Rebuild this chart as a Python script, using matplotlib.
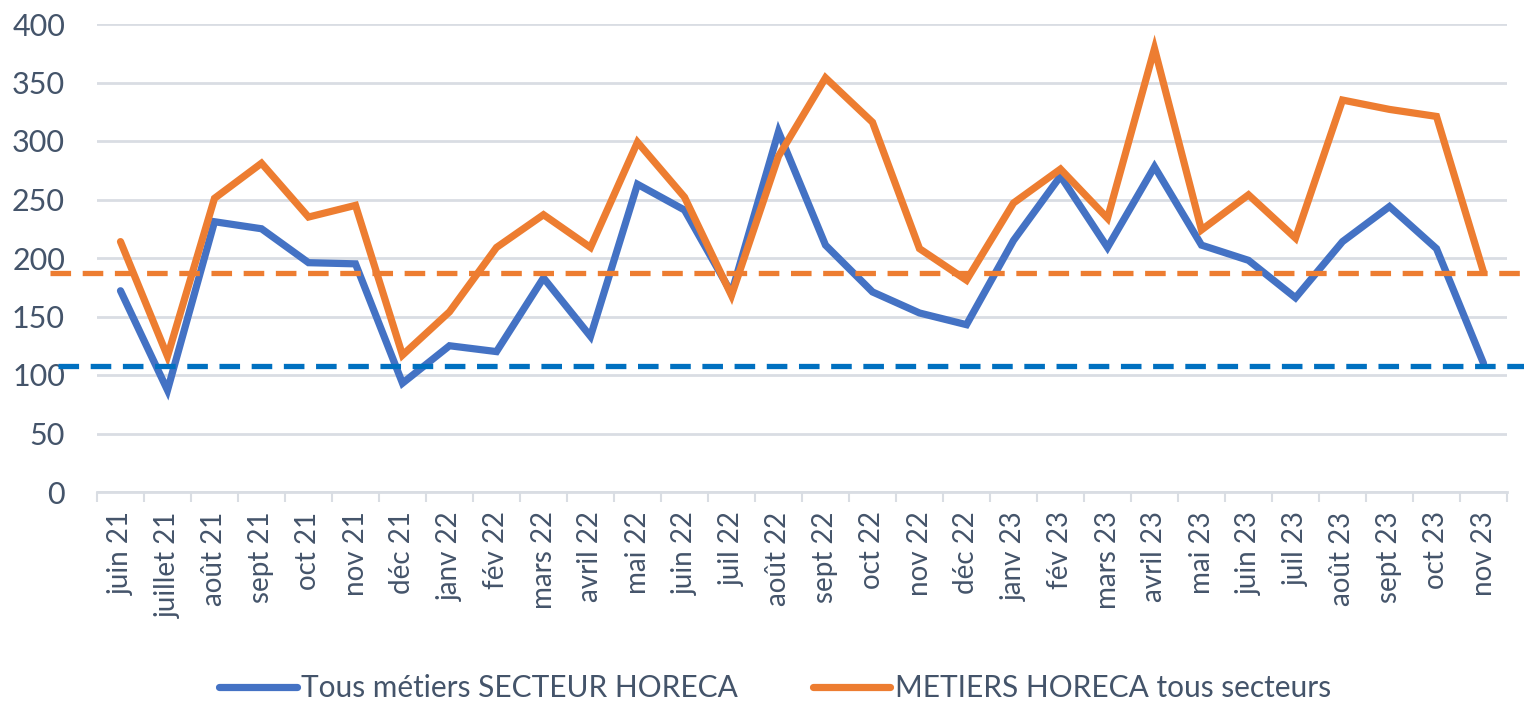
import matplotlib
matplotlib.use('Agg')
import matplotlib.pyplot as plt
import numpy as np

# mois (juin 2021 -> nov 2023)
mois = ['juin 21', 'juillet 21', 'août 21', 'sept 21', 'oct 21', 'nov 21', 'déc 21',
        'janv 22', 'fév 22', 'mars 22', 'avril 22', 'mai 22', 'juin 22', 'juil 22',
        'août 22', 'sept 22', 'oct 22', 'nov 22', 'déc 22', 'janv 23', 'fév 23',
        'mars 23', 'avril 23', 'mai 23', 'juin 23', 'juil 23', 'août 23', 'sept 23',
        'oct 23', 'nov 23']
tous_metiers = [172, 87, 231, 225, 196, 195, 93, 125, 120, 183, 133, 263, 241, 170,
                308, 211, 171, 153, 143, 215, 270, 209, 278, 211, 198, 166, 214, 244,
                208, 110]
metiers_horeca = [214, 116, 251, 281, 235, 245, 117, 154, 209, 237, 209, 299, 252, 168,
                  287, 354, 316, 208, 181, 247, 276, 234, 379, 224, 254, 217, 335, 327,
                  321, 188]
# seuils (lignes pointillées)
seuil_tous = 108
seuil_horeca = 187

plt.rcParams['font.family'] = ['Lato', 'DejaVu Sans']
txt = '#44546A'
grid = '#D9DDE3'

fig = plt.figure(figsize=(15.24, 7.07), dpi=100)
ax = fig.add_axes([97/1524, 1 - 492/707, 1410/1524, 468/707])

x = np.arange(len(mois))
ax.plot(x, tous_metiers, color='#4472C4', lw=5.2, solid_joinstyle='miter',
        solid_capstyle='round', label='Tous métiers SECTEUR HORECA', zorder=3)
ax.plot(x, metiers_horeca, color='#ED7D31', lw=5.2, solid_joinstyle='miter',
        solid_capstyle='round', label='METIERS HORECA tous secteurs', zorder=3)

ax.axhline(seuil_horeca, xmin=-0.033, xmax=1.05, color='#ED7D31', lw=3.8,
           dashes=(3.9, 2.2), clip_on=False, zorder=4)
ax.axhline(seuil_tous, xmin=-0.028, xmax=1.05, color='#0070C0', lw=3.8,
           dashes=(3.9, 2.2), clip_on=False, zorder=4)

ax.set_xlim(-0.5, len(mois) - 0.5)
ax.set_ylim(0, 400)
ax.set_yticks(range(0, 401, 50))
ax.yaxis.grid(True, color=grid, lw=2)
ax.set_axisbelow(True)

ax.set_xticks(x)
ax.set_xticklabels(mois, rotation=90, fontsize=20, color=txt)
ax.set_xticks(np.arange(-0.5, len(mois)), minor=True)
ax.tick_params(axis='x', which='major', length=0, pad=14)
ax.tick_params(axis='x', which='minor', length=7, width=1.5, color=grid)
ax.tick_params(axis='y', length=0, pad=23, labelsize=22, labelcolor=txt)

for s in ['top', 'right', 'left']:
    ax.spines[s].set_visible(False)
ax.spines['bottom'].set_color(grid)
ax.spines['bottom'].set_linewidth(2)

fig.legend(loc='center', bbox_to_anchor=(775/1524, 1 - 688/707), ncol=2, frameon=False,
           fontsize=21.5, labelcolor=txt, handlelength=2.6, handletextpad=0.15,
           columnspacing=2.5)

plt.savefig('out.png', dpi=100)
